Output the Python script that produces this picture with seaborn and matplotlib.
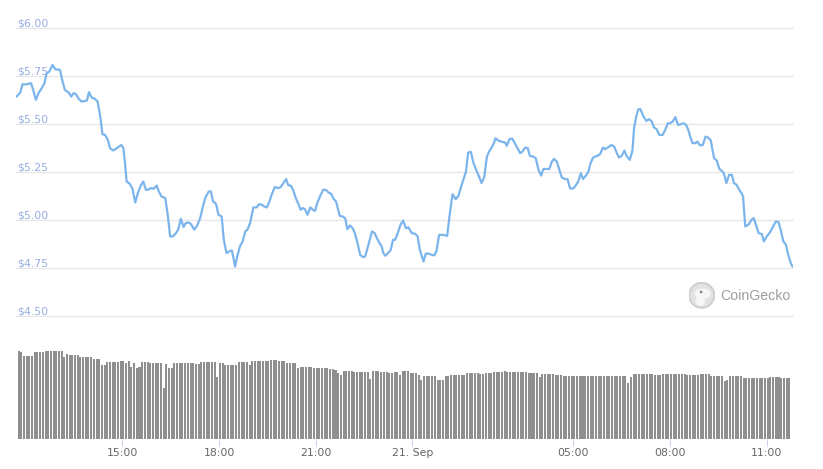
import numpy as np
import pandas as pd
import matplotlib
matplotlib.use("Agg")
import matplotlib.pyplot as plt
import seaborn as sns
from matplotlib.patches import Circle, Ellipse

# ---------------- data ----------------
start_time = "2020-09-20 11:43"

price_minutes = [
    0, 7, 11, 19, 27, 31, 36, 41, 47, 52, 56, 61, 67, 72, 81, 85, 90, 97, 102, 106,
    111, 115, 121, 131, 135, 140, 146, 151, 156, 160, 165, 170, 174, 180, 187, 195, 199, 202, 205, 211,
    216, 221, 226, 232, 236, 241, 245, 250, 255, 261, 265, 270, 277, 282, 286, 291, 296, 301, 306, 311,
    315, 320, 325, 331, 336, 342, 347, 352, 358, 362, 366, 370,
    372, 376, 382, 386, 391, 396, 401, 404, 407, 411, 416, 421, 426, 430, 435, 441, 447, 452, 457, 461,
    466, 471, 475, 481, 488, 492, 497, 502, 506, 511, 515, 520, 525, 529, 533, 537, 542, 547, 552, 556,
    560, 565, 571, 576, 581, 586, 590, 595, 599, 602, 607, 612, 616, 621, 626, 630, 635, 640, 645, 649,
    652, 657, 662, 667, 671, 676, 680, 683, 687, 692, 697, 701, 705, 710, 715, 720, 725, 730,
    736, 742, 747, 751, 758, 762, 768, 773, 778, 782, 787, 795, 802, 807, 812, 818, 823, 828, 833, 837,
    841, 846, 851, 856, 860, 866, 871, 876, 880, 885, 889, 892, 897, 903, 910, 913, 918, 923, 928, 933,
    938, 942, 947, 952, 956, 962, 967, 972, 977, 981, 987, 992, 997, 1001, 1006, 1010, 1015, 1021, 1026, 1031,
    1037, 1041, 1046, 1051, 1055, 1060, 1065, 1068, 1073, 1077, 1082, 1087,
    1092, 1096, 1102, 1108, 1113, 1118, 1122, 1127, 1132, 1136, 1142, 1147, 1150, 1154, 1158, 1162, 1167, 1173, 1178, 1183,
    1187, 1192, 1197, 1203, 1208, 1213, 1217, 1222, 1227, 1232, 1237, 1242, 1247, 1251, 1255, 1259, 1264, 1268, 1273, 1278,
    1283, 1287, 1293, 1296, 1299, 1304, 1309, 1313, 1317, 1322, 1327, 1332, 1336, 1341, 1346, 1350, 1353, 1357, 1363, 1369,
    1373, 1378, 1382, 1388, 1392, 1397, 1402, 1406, 1409, 1414, 1419, 1423, 1428, 1433, 1437, 1442, 1445,
]

price_usd = [
    5.644, 5.665, 5.708, 5.708, 5.714, 5.679, 5.627, 5.662, 5.688, 5.714, 5.766, 5.774, 5.809, 5.787, 5.783, 5.731, 5.679, 5.665, 5.644, 5.662,
    5.656, 5.635, 5.618, 5.623, 5.667, 5.639, 5.632, 5.618, 5.540, 5.448, 5.444, 5.418, 5.375, 5.363, 5.375, 5.392, 5.375, 5.297, 5.201, 5.189,
    5.162, 5.092, 5.141, 5.184, 5.201, 5.158, 5.158, 5.167, 5.163, 5.180, 5.149, 5.123, 5.115, 5.019, 4.915, 4.915, 4.929, 4.950, 5.007, 4.964,
    4.984, 4.988, 4.979, 4.950, 4.970, 5.010, 5.071, 5.120, 5.149, 5.149, 5.097, 5.089,
    5.080, 5.028, 5.019, 4.897, 4.828, 4.837, 4.842, 4.802, 4.758, 4.810, 4.863, 4.889, 4.941, 4.950, 4.984, 5.066, 5.066, 5.083, 5.080, 5.071,
    5.066, 5.097, 5.132, 5.172, 5.167, 5.172, 5.193, 5.214, 5.182, 5.179, 5.158, 5.115, 5.083, 5.054, 5.063, 5.057, 5.028, 5.066, 5.054, 5.048,
    5.089, 5.123, 5.158, 5.158, 5.144, 5.137, 5.113, 5.097, 5.054, 5.022, 5.019, 5.010, 4.953, 4.972, 4.958, 4.932, 4.880, 4.819, 4.807, 4.810,
    4.837, 4.889, 4.941, 4.932, 4.906, 4.880, 4.863, 4.828, 4.814, 4.828, 4.845, 4.897, 4.897, 4.932, 4.976, 4.998, 4.958, 4.962,
    4.932, 4.929, 4.915, 4.845, 4.784, 4.825, 4.825, 4.819, 4.816, 4.837, 4.923, 4.923, 4.918, 5.036, 5.135, 5.109, 5.127, 5.175, 5.219, 5.253,
    5.352, 5.356, 5.297, 5.262, 5.236, 5.193, 5.224, 5.331, 5.357, 5.380, 5.401, 5.427, 5.415, 5.409, 5.404, 5.387, 5.422, 5.425, 5.401, 5.375,
    5.349, 5.357, 5.378, 5.375, 5.335, 5.331, 5.323, 5.262, 5.232, 5.266, 5.267, 5.266, 5.305, 5.319, 5.305, 5.271, 5.224, 5.214, 5.214, 5.165,
    5.165, 5.179, 5.201, 5.245, 5.214, 5.231, 5.253, 5.288, 5.323, 5.331, 5.335, 5.345,
    5.378, 5.370, 5.380, 5.392, 5.383, 5.349, 5.326, 5.335, 5.363, 5.335, 5.314, 5.363, 5.479, 5.540, 5.578, 5.578, 5.543, 5.517, 5.526, 5.514,
    5.484, 5.474, 5.444, 5.444, 5.470, 5.505, 5.505, 5.514, 5.537, 5.496, 5.500, 5.505, 5.496, 5.470, 5.432, 5.401, 5.401, 5.409, 5.389, 5.392,
    5.435, 5.432, 5.415, 5.366, 5.323, 5.310, 5.266, 5.258, 5.245, 5.193, 5.236, 5.236, 5.193, 5.184, 5.158, 5.141, 5.123, 4.967, 4.976, 5.002,
    5.010, 4.967, 4.932, 4.927, 4.889, 4.915, 4.932, 4.950, 4.967, 4.993, 4.990, 4.950, 4.889, 4.871, 4.819, 4.776, 4.758,
]

# 5-minute trading volume (thousand USD)
volume_k = [
    880, 870, 830, 830, 830, 830, 870, 870, 870, 870, 880, 880, 880, 880, 880, 880, 880, 820, 850, 840,
    840, 840, 840, 820, 820, 820, 820, 820, 800, 800, 800, 740, 740, 770, 770, 770, 770, 770, 780, 780,
    760, 780, 720, 760, 710, 720, 770, 770, 770, 760, 760, 760, 760, 760, 510, 750, 710, 710, 760, 760,
    760, 760, 760, 760, 760, 760, 750, 750, 770, 770, 770, 770, 770, 770, 620, 760, 760, 740, 740, 740,
    740, 740, 770, 770, 770, 770, 740, 780, 780, 780, 780, 780, 780, 780, 790, 790, 790, 780, 780, 780,
    760, 760, 760, 760, 710, 720, 720, 720, 720, 720, 710, 710, 710, 710, 710, 710, 700, 700, 690, 660,
    640, 680, 680, 680, 680, 670, 670, 670, 670, 670, 670, 600, 680, 680, 680, 670, 670, 670, 660, 660,
    670, 670, 640, 680, 680, 680, 660, 660, 660, 640, 590, 630, 630, 630, 630, 630, 590, 590, 590, 630,
    630, 640, 640, 640, 640, 640, 640, 660, 660, 660, 660, 660, 650, 650, 660, 660, 660, 670, 670, 670,
    670, 680, 670, 670, 670, 670, 670, 670, 670, 670, 660, 660, 660, 660, 620, 650, 650, 650, 650, 650,
    640, 640, 640, 630, 630, 630, 630, 630, 630, 630, 630, 630, 630, 630, 630, 630, 630, 630, 630, 630,
    630, 630, 630, 630, 630, 630, 630, 560, 620, 650, 650, 650, 650, 650, 650, 650, 650, 640, 640, 640,
    650, 650, 650, 650, 650, 650, 650, 650, 650, 640, 640, 640, 640, 640, 650, 650, 650, 650, 630, 630,
    630, 630, 630, 580, 590, 630, 630, 630, 630, 630, 610, 610, 610, 610, 610, 610, 610, 610, 610, 610,
    620, 620, 620, 620, 610, 610, 610, 610,
]
volume_first_min = 4
volume_step_min = 5

y_ticks = [4.50, 4.75, 5.00, 5.25, 5.50, 5.75, 6.00]
x_tick_times = ["2020-09-20 15:00", "2020-09-20 18:00", "2020-09-20 21:00",
                "2020-09-21 00:00", "2020-09-21 05:00", "2020-09-21 08:00",
                "2020-09-21 11:00"]
x_tick_labels = ["15:00", "18:00", "21:00", "21. Sep", "05:00", "08:00", "11:00"]

# ---------------- style ----------------
sns.set_theme(style="white")
plt.rcParams['font.family'] = ['DejaVu Sans']

W, H = 823, 469
fig = plt.figure(figsize=(W / 100, H / 100), dpi=100)
fig.patch.set_facecolor("white")


def fx(px):
    return px / W


def fy(py):
    return 1 - py / H


ax = fig.add_axes([fx(16), fy(316), fx(793) - fx(16), fy(28.3) - fy(316)])
axv = fig.add_axes([fx(16), fy(439), fx(793) - fx(16), fy(339) - fy(439)])

x_min, x_max = -1, 1446

# price line
price_df = pd.DataFrame({"minute": price_minutes, "price": price_usd})
sns.lineplot(data=price_df, x="minute", y="price", ax=ax, color="#7cb5ec",
             linewidth=1.6, zorder=3)
ax.set_xlim(x_min, x_max)
ax.set_ylim(y_ticks[0], y_ticks[-1])
ax.set_xticks([])
ax.set_yticks([])
ax.set_xlabel("")
ax.set_ylabel("")
for s in ax.spines.values():
    s.set_visible(False)
ax.patch.set_alpha(0)

for v in y_ticks:
    ax.axhline(v, color="#e6e6e6", lw=0.9, zorder=0, clip_on=False)
    ax.annotate(f"${v:.2f}", xy=(0, v), xycoords=("axes fraction", "data"),
                xytext=(1, 2), textcoords="offset pixels", ha="left",
                va="baseline", fontsize=7.9, color="#98acdf", zorder=1,
                annotation_clip=False)

# volume bars
vol_df = pd.DataFrame({
    "minute": volume_first_min + volume_step_min * np.arange(len(volume_k)),
    "volume": volume_k,
})
sns.barplot(data=vol_df, x="minute", y="volume", ax=axv, native_scale=True,
            color="#8f8f8f", saturation=1, width=0.75, linewidth=0,
            errorbar=None)
axv.set_xlim(x_min, x_max)
axv.set_ylim(0, 1000)
axv.set_yticks([])
axv.set_xlabel("")
axv.set_ylabel("")
for s in axv.spines.values():
    s.set_visible(False)
axv.patch.set_alpha(0)

t0 = pd.Timestamp(start_time)
tick_min = [(pd.Timestamp(t) - t0) / pd.Timedelta(minutes=1) for t in x_tick_times]
axv.set_xticks(tick_min)
axv.set_xticklabels(x_tick_labels)
axv.tick_params(axis="x", bottom=True, length=5.2, width=0.75,
                color="#ccd6eb", labelcolor="#666666", labelsize=7.8, pad=1.5)

# CoinGecko watermark
lax = fig.add_axes([fx(688.5), fy(308.5), fx(26.4), 26.4 / H])
lax.set_xlim(-1, 1)
lax.set_ylim(-1, 1)
lax.set_aspect("equal")
lax.axis("off")
lax.add_patch(Circle((0, 0), 0.95, fc="#e2e2e2", ec="#cfcfcf", lw=1.4))
lax.add_patch(Ellipse((0.08, 0.12), 1.25, 0.8, fc="#f6f6f6", ec="none"))
lax.add_patch(Ellipse((-0.1, -0.45), 0.75, 0.7, fc="#f6f6f6", ec="none"))
lax.add_patch(Circle((-0.05, 0.25), 0.11, fc="#8a8a8a", ec="none"))
fig.text(fx(720), fy(296), "CoinGecko", fontsize=10.2,
         family=["Liberation Sans", "DejaVu Sans"], color="#9e9e9e",
         ha="left", va="center")

fig.savefig("out.png", dpi=100)
